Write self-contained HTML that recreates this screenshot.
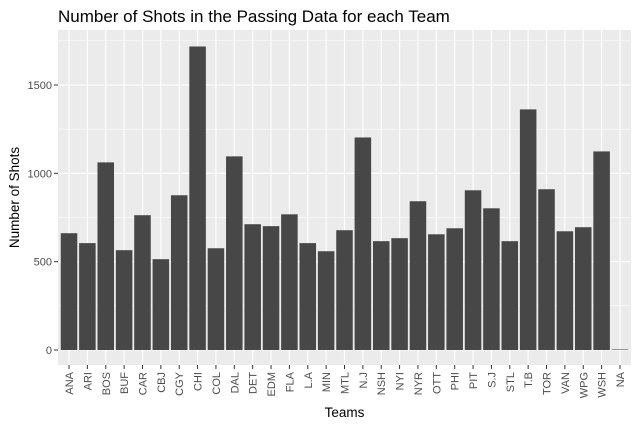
<!DOCTYPE html>
<html><head><style>
body{margin:0;background:#fff;font-family:"Liberation Sans",sans-serif}
</style></head><body>
<svg id="c" width="638" height="425" xmlns="http://www.w3.org/2000/svg"></svg>
<script>
const categories=["ANA","ARI","BOS","BUF","CAR","CBJ","CGY","CHI","COL","DAL","DET","EDM","FLA","L.A","MIN","MTL","N.J","NSH","NYI","NYR","OTT","PHI","PIT","S.J","STL","T.B","TOR","VAN","WPG","WSH","NA"];
const shots=[661,605,1062,565,763,514,876,1718,576,1096,712,701,768,605,559,678,1203,616,633,842,655,689,904,802,616,1362,910,672,695,1124,3];
const yTicks=[0,500,1000,1500];
const svg=document.getElementById('c');
const NS="http://www.w3.org/2000/svg";
const L=58,R=631,T=30,B=365,Y0=350,ppu=(350-85)/1500;
const step=(R-L)/(categories.length+0.2);
const x=i=>L+step*(0.6+i);
const y=v=>Y0-v*ppu;
function mk(t,a,p){const e=document.createElementNS(NS,t);for(const k in a)e.setAttribute(k,a[k]);(p||svg).appendChild(e);return e;}
const bg=mk('rect',{x:L,y:T,width:R-L,height:B-T,fill:'#ebebeb'});


for(let i=0;i<yTicks.length;i++){const v=yTicks[i]+250;if(y(v)>T)mk('line',{x1:L,x2:R,y1:y(v),y2:y(v),stroke:'#fff','stroke-width':0.5});}
yTicks.forEach(v=>{
 mk('line',{x1:L,x2:R,y1:y(v),y2:y(v),stroke:'#fff','stroke-width':1.1});
 mk('line',{x1:L-4,x2:L,y1:y(v),y2:y(v),stroke:'#333','stroke-width':1});
 const t=mk('text',{x:L-6,y:y(v)+4,'text-anchor':'end','font-size':11,fill:'#4d4d4d'});t.textContent=v;
 
 
});
categories.forEach((c,i)=>{
 mk('line',{x1:x(i),x2:x(i),y1:T,y2:B,stroke:'#fff','stroke-width':1.1});
});
const bw=step*0.9;
categories.forEach((c,i)=>{
 const r=mk('rect',{x:x(i)-bw/2,y:y(shots[i]),width:bw,height:shots[i]*ppu,fill:'#474747'});
 
 
 mk('line',{x1:x(i),x2:x(i),y1:B,y2:B+4,stroke:'#333','stroke-width':1});
 const t=mk('text',{x:0,y:0,'text-anchor':'end','font-size':11,fill:'#4d4d4d',transform:`translate(${x(i)+4},${B+7}) rotate(-90)`});t.textContent=c;
 
 
});
const title=mk('text',{x:58,y:22,'font-size':17,fill:'#000'});title.textContent="Number of Shots in the Passing Data for each Team";


const xt=mk('text',{x:(L+R)/2,y:417,'text-anchor':'middle','font-size':13.5,fill:'#000'});xt.textContent="Teams";


const yt=mk('text',{x:0,y:0,'text-anchor':'middle','font-size':13.5,fill:'#000',transform:`translate(19,${(T+B)/2}) rotate(-90)`});yt.textContent="Number of Shots";


</script>
</body></html>
